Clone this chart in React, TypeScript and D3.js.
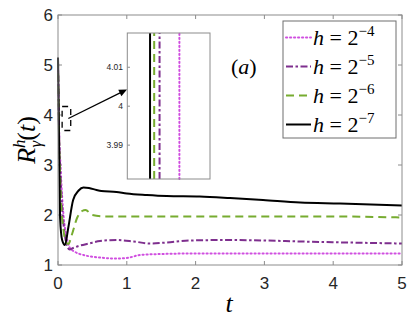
import * as d3 from "d3";
import { useEffect, useRef } from "react";

// h = 2^-4 (dotted magenta)
const t4 = [0, 0.01126, 0.04, 0.08, 0.12, 0.15, 0.17, 0.25, 0.37, 0.6, 0.85, 1.0, 1.19, 1.5, 2, 3, 4, 5];
const r4 = [5.1, 4.0, 2.9, 2.0, 1.6, 1.42, 1.35, 1.26, 1.2, 1.15, 1.13, 1.14, 1.2, 1.22, 1.23, 1.23, 1.23, 1.23];
// h = 2^-5 (dash-dot purple)
const t5 = [0, 0.01078, 0.05, 0.1, 0.14, 0.17, 0.22, 0.3, 0.45, 0.61, 0.85, 1.1, 1.34, 1.58, 1.92, 2.5, 3.0, 3.52, 4.2, 5];
const r5 = [5.1, 4.0, 2.4, 1.6, 1.35, 1.31, 1.34, 1.38, 1.43, 1.48, 1.5, 1.47, 1.43, 1.45, 1.49, 1.5, 1.49, 1.47, 1.45, 1.43];
// h = 2^-6 (dashed green)
const t6 = [0, 0.01065, 0.04, 0.08, 0.12, 0.15, 0.2, 0.28, 0.35, 0.4, 0.5, 0.7, 1.0, 2, 3, 4, 5];
const r6 = [5.1, 4.0, 2.4, 1.7, 1.45, 1.42, 1.6, 1.95, 2.08, 2.1, 2.0, 1.97, 1.97, 1.97, 1.97, 1.97, 1.95];
// h = 2^-7 (solid black)
const t7 = [0, 0.01055, 0.03, 0.06, 0.1, 0.15, 0.22, 0.3, 0.37, 0.45, 0.56, 0.63, 0.85, 1.0, 1.29, 1.58, 2.06, 2.5, 2.98, 3.52, 4.1, 5];
const r7 = [5.15, 4.0, 1.95, 1.5, 1.4, 1.75, 2.3, 2.49, 2.55, 2.54, 2.5, 2.48, 2.46, 2.43, 2.4, 2.38, 2.37, 2.34, 2.3, 2.25, 2.23, 2.19];

const xTicks = [0, 1, 2, 3, 4, 5];
const yTicks = [1, 2, 3, 4, 5, 6];
const insetTicks = [3.99, 4, 4.01];
const exps = ["4", "5", "6", "7"];
// box around the zoomed region, in data units
const zoomT = [0.06, 0.185];
const zoomR = [3.69, 4.17];

const series = [
  { t: t4, r: r4, color: "#d04fe0", dash: "1.2,2.8", cap: "round" },
  { t: t5, r: r5, color: "#7e2f8e", dash: "7,2.5,2.5,2.5", cap: "butt" },
  { t: t6, r: r6, color: "#77ac30", dash: "8,5", cap: "butt" },
  { t: t7, r: r7, color: "#000000", dash: "none", cap: "butt" },
];

const SANS = "'Liberation Sans', Arial, sans-serif";
const SERIF = "'Liberation Serif', serif";

function App() {
  const ref = useRef<SVGSVGElement>(null);

  useEffect(() => {
    const svg = d3.select(ref.current);
    svg.selectAll("*").remove();

    const x = d3.scaleLinear().domain([0, 5]).range([58, 402]);
    const y = d3.scaleLinear().domain([1, 6]).range([265, 15]);
    const axisCol = "#262626";
    const boxCol = "#8c8c8c";

    const g = svg.append("g");

    // tick marks (inside, all four sides)
    xTicks.forEach(v => {
      g.append("line").attr("x1", x(v)).attr("x2", x(v)).attr("y1", 265).attr("y2", 261).attr("stroke", boxCol);
      g.append("line").attr("x1", x(v)).attr("x2", x(v)).attr("y1", 15).attr("y2", 19).attr("stroke", boxCol);
      g.append("text").attr("x", x(v)).attr("y", 289).attr("text-anchor", "middle")
        .style("font-family", SANS).attr("font-size", 17).attr("fill", axisCol).text(v);
    });
    yTicks.forEach(v => {
      g.append("line").attr("x1", 58).attr("x2", 62).attr("y1", y(v)).attr("y2", y(v)).attr("stroke", boxCol);
      g.append("line").attr("x1", 402).attr("x2", 398).attr("y1", y(v)).attr("y2", y(v)).attr("stroke", boxCol);
      g.append("text").attr("x", 53).attr("y", y(v)).attr("dy", "0.36em").attr("text-anchor", "end")
        .style("font-family", SANS).attr("font-size", 17).attr("fill", axisCol).text(v);
    });

    // curves
    series.forEach(s => {
      const pts = s.t.map((t, i) => [t, s.r[i]] as [number, number]);
      const line = d3.line<[number, number]>().x(d => x(d[0])).y(d => y(d[1])).curve(d3.curveMonotoneX);
      g.append("path").attr("d", line(pts)).attr("fill", "none").attr("stroke", s.color)
        .attr("stroke-width", 2).attr("stroke-dasharray", s.dash).attr("stroke-linecap", s.cap);
    });

    g.append("rect").attr("x", 58).attr("y", 15).attr("width", 344).attr("height", 250)
      .attr("fill", "none").attr("stroke", boxCol).attr("stroke-width", 1);

    // zoom box
    g.append("rect").attr("x", x(zoomT[0])).attr("y", y(zoomR[1]))
      .attr("width", x(zoomT[1]) - x(zoomT[0])).attr("height", y(zoomR[0]) - y(zoomR[1]))
      .attr("fill", "none").attr("stroke", "#000").attr("stroke-width", 1.3).attr("stroke-dasharray", "6,5");

    // inset
    const ix = d3.scaleLinear().domain([0.010, 0.012]).range([127.3, 210]);
    const iy = d3.scaleLinear().domain([3.9813, 4.0188]).range([179, 33]);
    const ig = svg.append("g");
    ig.append("rect").attr("x", 127.3).attr("y", 33).attr("width", 82.7).attr("height", 146).attr("fill", "#fff");
    series.forEach(s => {
      const tc = s.t[1];
      ig.append("line").attr("x1", ix(tc)).attr("x2", ix(tc)).attr("y1", iy(3.9813)).attr("y2", iy(4.0188))
        .attr("stroke", s.color).attr("stroke-width", 2).attr("stroke-dasharray", s.dash).attr("stroke-linecap", s.cap);
    });
    insetTicks.forEach(v => {
      ig.append("line").attr("x1", 127.3).attr("x2", 130).attr("y1", iy(v)).attr("y2", iy(v)).attr("stroke", boxCol);
      ig.append("text").attr("x", 123).attr("y", iy(v)).attr("dy", "0.36em").attr("text-anchor", "end")
        .style("font-family", SANS).attr("font-size", 8.5).attr("fill", axisCol).text(v);
    });
    ig.append("rect").attr("x", 127.3).attr("y", 33).attr("width", 82.7).attr("height", 146)
      .attr("fill", "none").attr("stroke", boxCol).attr("stroke-width", 1);

    // arrow from zoom box to inset
    const ax0 = x(0.15), ay0 = y(3.93), ax1 = 127, ay1 = iy(4.0043);
    const ang = Math.atan2(ay1 - ay0, ax1 - ax0);
    svg.append("line").attr("x1", ax0).attr("y1", ay0).attr("x2", ax1 - 6 * Math.cos(ang)).attr("y2", ay1 - 6 * Math.sin(ang))
      .attr("stroke", "#000").attr("stroke-width", 1.3);
    const hl = 8, hw = 3.5;
    const bx = ax1 - hl * Math.cos(ang), by = ay1 - hl * Math.sin(ang);
    svg.append("path")
      .attr("d", `M${ax1},${ay1} L${bx + hw * Math.sin(ang)},${by - hw * Math.cos(ang)} L${bx - hw * Math.sin(ang)},${by + hw * Math.cos(ang)} Z`)
      .attr("fill", "#000");

    // (a)
    const lab = svg.append("text").attr("x", 231).attr("y", 74).style("font-family", SERIF).attr("font-size", 22);
    lab.append("tspan").text("(");
    lab.append("tspan").attr("font-style", "italic").text("a");
    lab.append("tspan").text(")");

    // legend
    const lg = svg.append("g");
    lg.append("rect").attr("x", 283).attr("y", 21).attr("width", 113).attr("height", 117)
      .attr("fill", "#fff").attr("stroke", "#6e6e6e").attr("stroke-width", 1);
    series.forEach((s, i) => {
      const yy = 37.5 + i * 29;
      lg.append("line").attr("x1", 286).attr("x2", 311).attr("y1", yy).attr("y2", yy)
        .attr("stroke", s.color).attr("stroke-width", 2).attr("stroke-dasharray", s.dash).attr("stroke-linecap", s.cap);
      const tx = lg.append("text").attr("x", 313).attr("y", yy + 7)
        .style("font-family", SERIF).attr("font-size", 22).attr("fill", "#000");
      tx.append("tspan").attr("font-style", "italic").text("h");
      tx.append("tspan").text(" = 2");
      tx.append("tspan").attr("font-size", 15).attr("dy", -9).text("\u2212" + exps[i]);
    });

    // axis labels
    const xl = svg.append("text").attr("x", 229).attr("y", 312).attr("text-anchor", "middle")
      .style("font-family", SERIF).attr("font-size", 26).attr("font-style", "italic");
    xl.text("t");

    const yl = svg.append("text").attr("transform", "translate(35,140) rotate(-90)").attr("text-anchor", "middle")
      .style("font-family", SERIF).attr("font-size", 26);
    yl.append("tspan").attr("font-style", "italic").text("R");
    yl.append("tspan").attr("font-style", "italic").attr("font-size", 17).attr("dy", -10).text("h");
    yl.append("tspan").attr("font-style", "italic").attr("font-size", 17).attr("dx", -8).attr("dy", 16).text("\u03b3");
    yl.append("tspan").attr("dy", -6).text("(");
    yl.append("tspan").attr("font-style", "italic").text("t");
    yl.append("tspan").text(")");

    return () => {
      svg.selectAll("*").remove();
    };
  }, []);

  return (
    <svg ref={ref} width={416} height={323} style={{ position: "absolute", left: 0, top: 0, background: "#fff" }} />
  );
}

export default App;
